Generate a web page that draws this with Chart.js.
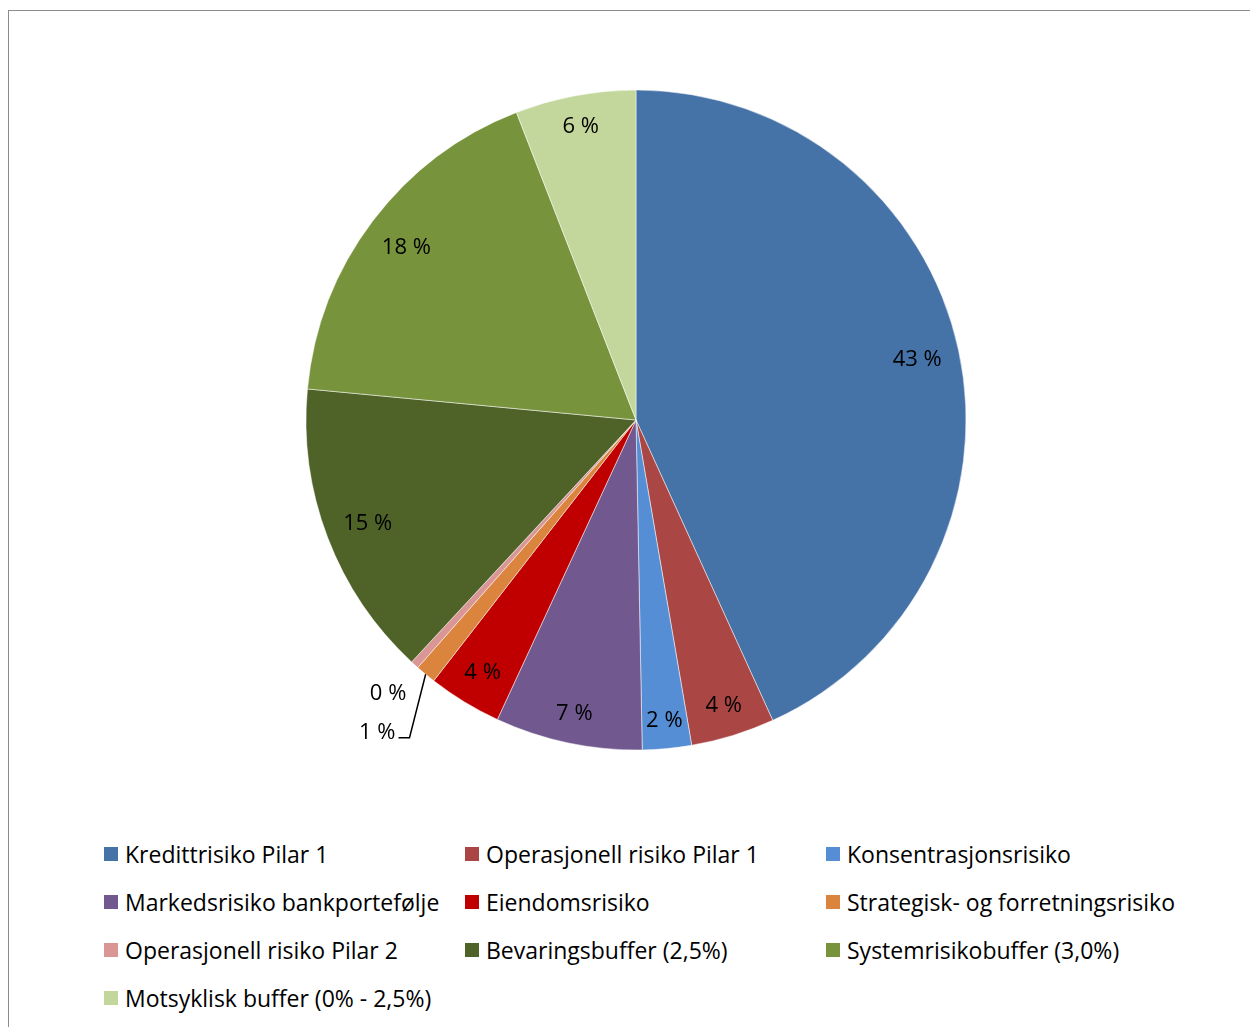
<!DOCTYPE html>
<html>
<head>
<meta charset="utf-8">
<script src="https://cdn.jsdelivr.net/npm/chart.js@4"></script>
<style>
  html, body { margin: 0; padding: 0; background: #fff; }
  body { width: 1250px; height: 1027px; position: relative; overflow: hidden; font-family: "Open Sans", Lato, sans-serif; }
  .frame { position: absolute; left: 8px; top: 10px; width: 1300px; height: 1100px; border: 1px solid #8c8c8c; }
  .pie-wrap { position: absolute; left: 286px; top: 70px; width: 700px; height: 700px; }
  .legend { position: absolute; left: 104px; top: 830px; display: grid; grid-template-columns: 361px 361px 361px; grid-auto-rows: 48px; }
  .legend-item { display: flex; align-items: center; font-size: 23px; color: #000; white-space: nowrap; }
  .legend-box { width: 14px; height: 14px; margin-right: 7px; flex: none; }
</style>
</head>
<body>
<div class="frame"></div>
<div class="pie-wrap"><canvas id="pie" width="700" height="700"></canvas></div>
<div class="legend" id="legend"></div>
<script>
const categories = [
  'Kredittrisiko Pilar 1',
  'Operasjonell risiko Pilar 1',
  'Konsentrasjonsrisiko',
  'Markedsrisiko bankportefølje',
  'Eiendomsrisiko',
  'Strategisk- og forretningsrisiko',
  'Operasjonell risiko Pilar 2',
  'Bevaringsbuffer (2,5%)',
  'Systemrisikobuffer (3,0%)',
  'Motsyklisk buffer (0% - 2,5%)'
];
const shares = [43.2, 4.1, 2.4, 7.2, 3.6, 1.0, 0.4, 14.6, 17.6, 5.9];
const colors = ['#4572A7', '#AA4643', '#558ED5', '#71588F', '#C00000', '#DB843D', '#D99694', '#4F6228', '#77933C', '#C3D69B'];

// small slices whose labels sit outside the pie
const outside = { 5: { dist: 1.23, leader: true }, 6: { dist: 1.12, leader: false } };

const labelFont = '22px "Open Sans", Lato, sans-serif';

const pctLabels = {
  id: 'pctLabels',
  afterDatasetsDraw(chart) {
    const ctx = chart.ctx;
    const meta = chart.getDatasetMeta(0);
    const total = shares.reduce((a, b) => a + b, 0);
    ctx.save();
    ctx.font = labelFont;
    ctx.fillStyle = '#000';
    ctx.textBaseline = 'middle';
    ctx.textAlign = 'center';
    meta.data.forEach((arc, i) => {
      const { x, y, startAngle, endAngle, outerRadius } = arc.getProps(['x', 'y', 'startAngle', 'endAngle', 'outerRadius'], true);
      const mid = (startAngle + endAngle) / 2;
      const text = Math.round(shares[i] / total * 100) + ' %';
      const w = ctx.measureText(text).width;
      const o = outside[i];
      if (!o) {
        // inside end: keep the label box a fixed gap from the rim
        const ext = (w / 2) * Math.abs(Math.cos(mid)) + 11 * Math.abs(Math.sin(mid));
        const r = outerRadius - 16 - ext;
        ctx.fillText(text, x + Math.cos(mid) * r, y + Math.sin(mid) * r + 1);
        return;
      }
      const r = outerRadius * o.dist;
      const lx = x + Math.cos(mid) * r;
      const ly = y + Math.sin(mid) * r;
      ctx.fillText(text, lx, ly);
      if (o.leader) {
        ctx.strokeStyle = '#000';
        ctx.lineWidth = 1.5;
        ctx.beginPath();
        ctx.moveTo(x + Math.cos(mid) * outerRadius, y + Math.sin(mid) * outerRadius);
        ctx.lineTo(lx + w / 2 + 14, ly + 5);
        ctx.lineTo(lx + w / 2 + 3, ly + 5);
        ctx.stroke();
      }
    });
    ctx.restore();
  }
};

new Chart(document.getElementById('pie'), {
  type: 'pie',
  data: {
    labels: categories,
    datasets: [{
      data: shares,
      backgroundColor: colors,
      borderColor: '#ffffff',
      borderWidth: 0.5,
      radius: 330
    }]
  },
  options: {
    responsive: false,
    animation: false,
    plugins: {
      legend: { display: false },
      tooltip: { enabled: false }
    }
  },
  plugins: [pctLabels]
});

const legendEl = document.getElementById('legend');
categories.forEach((name, i) => {
  const item = document.createElement('div');
  item.className = 'legend-item';
  item.innerHTML = `<span class="legend-box" style="background:${colors[i]}"></span><span>${name}</span>`;
  legendEl.appendChild(item);
});
</script>
</body>
</html>
